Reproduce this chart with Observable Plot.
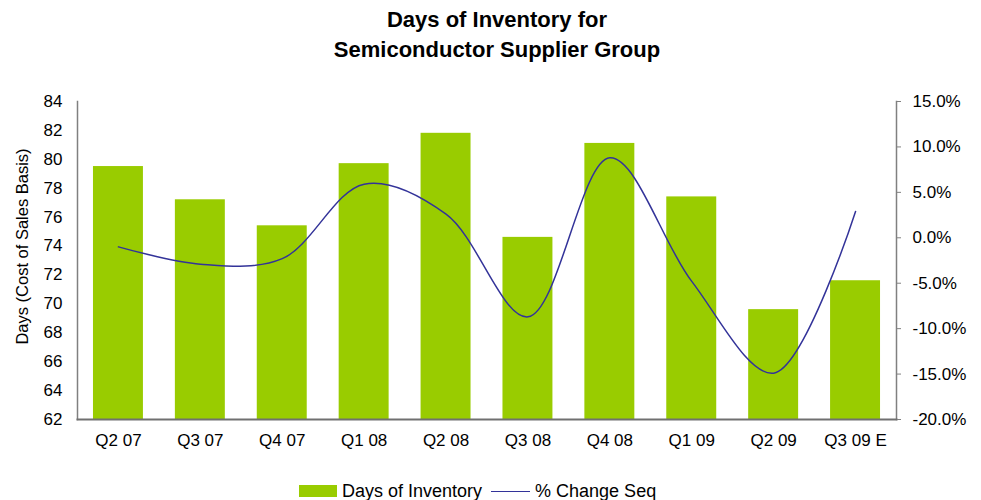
<!DOCTYPE html>
<html>
<head>
<meta charset="utf-8">
<script src="https://cdn.jsdelivr.net/npm/d3@7"></script>
<script src="https://cdn.jsdelivr.net/npm/@observablehq/plot@0.6"></script>
<style>
  html, body { margin: 0; padding: 0; background: #fff; }
  body { width: 981px; height: 500px; position: relative; overflow: hidden; font-family: "Liberation Sans", Arial, sans-serif; }
  #title { position: absolute; left: 0; top: 5px; width: 994px; text-align: center; font-weight: bold; font-size: 22px; line-height: 30px; color: #000; }
  #chart { position: absolute; left: 0; top: 70px; }
  #legend { position: absolute; left: 299px; top: 480px; height: 22px; display: flex; align-items: center; font-size: 18px; color: #000; }
  .sw { width: 38px; height: 12px; background: #99cc00; margin-right: 5px; }
  .ln { width: 39px; height: 0; border-top: 1.5px solid #333399; margin: 0 5px 0 9px; }
</style>
</head>
<body>
<div id="title">Days of Inventory for<br>Semiconductor Supplier Group</div>
<div id="chart"></div>
<div id="legend"><div class="sw"></div><span>Days of Inventory</span><div class="ln"></div><span>% Change Seq</span></div>
<script>
const quarters = ["Q2 07", "Q3 07", "Q4 07", "Q1 08", "Q2 08", "Q3 08", "Q4 08", "Q1 09", "Q2 09", "Q3 09 E"];
const daysOfInventory = [79.5, 77.2, 75.4, 79.7, 81.8, 74.6, 81.1, 77.4, 69.6, 71.6];
const pctChangeSeq = [-1.0, -2.9, -2.3, 5.9, 2.6, -8.7, 8.8, -4.8, -14.9, 2.9];
const leftTicks = [62, 64, 66, 68, 70, 72, 74, 76, 78, 80, 82, 84];
const rightTicks = [-20, -15, -10, -5, 0, 5, 10, 15];

const dMin = 62, dMax = 84, pMin = -20, pMax = 15;
const toDays = p => dMin + (p - pMin) * (dMax - dMin) / (pMax - pMin);
const toPct = d => pMin + (d - dMin) * (pMax - pMin) / (dMax - dMin);

const bars = quarters.map((q, i) => ({q, v: daysOfInventory[i]}));
const line = quarters.map((q, i) => ({q, p: pctChangeSeq[i]}));

const chart = Plot.plot({
  width: 981,
  height: 405,
  marginTop: 31,
  marginBottom: 56,
  marginLeft: 77,
  marginRight: 85,
  style: {fontFamily: '"Liberation Sans", Arial, sans-serif', fontSize: "17px", color: "#000", background: "#fff"},
  x: {domain: quarters, paddingInner: 0.39, paddingOuter: 0.195, round: false, label: null},
  y: {domain: [dMin, dMax], label: null},
  marks: [
    Plot.barY(bars, {x: "q", y1: dMin, y2: "v", fill: "#99cc00"}),
    Plot.line(line, {x: "q", y: d => toDays(d.p), stroke: "#333399", strokeWidth: 1.5, curve: "catmull-rom"}),
    Plot.frame({anchor: "left", stroke: "#808080", strokeWidth: 1.5}),
    Plot.frame({anchor: "right", stroke: "#808080", strokeWidth: 1.5}),
    Plot.frame({anchor: "bottom", stroke: "#707070", strokeWidth: 2}),
    Plot.axisX({anchor: "bottom", tickSize: 0, tickPadding: 14, label: null, fontSize: "17px"}),
    Plot.axisY({anchor: "left", ticks: leftTicks, tickSize: 0, tickPadding: 15, label: null, tickFormat: d => String(d)}),
    Plot.axisY({anchor: "right", ticks: rightTicks.map(toDays), tickSize: 4, tickPadding: 12, stroke: "#808080", label: null,
      tickFormat: d => { const p = Math.round(toPct(d)); return (p === 0 ? 0 : p).toFixed(1) + "%"; }}),
    Plot.text(["Days (Cost of Sales Basis)"], {frameAnchor: "left", text: d => d, rotate: -90, dx: -55, dy: -14, textAnchor: "middle", lineAnchor: "middle", fontSize: 16.5, fill: "#000"})
  ]
});
document.getElementById("chart").appendChild(chart);
</script>
</body>
</html>
